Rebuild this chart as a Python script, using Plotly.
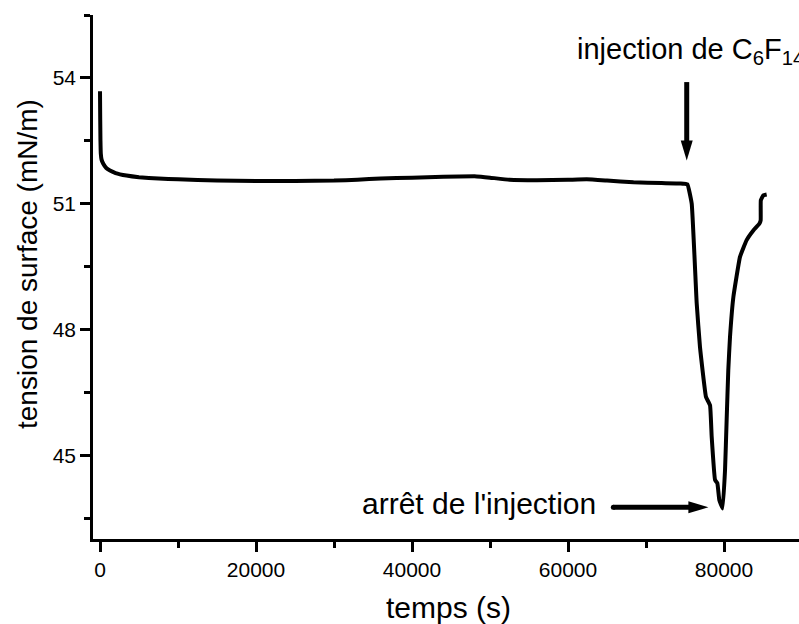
import math
import plotly.graph_objects as go

# ---------------- data ----------------
time_s = [0, 30, 60, 100, 200, 420, 800, 1280, 2000, 3400, 5000, 7500, 10000,
          15000, 20000, 25000, 30000, 33000, 36000, 40000, 44000, 48300, 50000,
          52500, 56000, 60000, 62400, 65000, 68400, 72000, 74400, 75300,
          75860, 76500, 76920, 77690, 78210, 78420, 78850, 79150, 79400, 79820,
          80130, 80340, 80550, 80770, 81200, 82050, 82900, 83760, 84530, 84700,
          84720, 85040, 85470]
tension = [53.68, 53.0, 52.5, 52.2, 52.05, 51.95, 51.85, 51.79, 51.73, 51.67, 51.63, 51.60, 51.58,
           51.55, 51.54, 51.54, 51.55, 51.57, 51.60, 51.62, 51.64, 51.65, 51.62,
           51.57, 51.56, 51.57, 51.58, 51.55, 51.51, 51.49, 51.48, 51.46,
           51.00, 48.62, 47.58, 46.39, 46.19, 45.44, 44.41, 44.33, 43.93, 43.73,
           44.64, 45.84, 47.03, 47.82, 48.77, 49.73, 50.13, 50.36, 50.52, 50.60,
           51.08, 51.20, 51.22]

x_tick_vals = [0, 20000, 40000, 60000, 80000]
y_tick_vals = [45, 48, 51, 54]

x_title = "temps (s)"
y_title = "tension de surface (mN/m)"
label_injection = "injection de C<sub>6</sub>F<sub>14</sub>"
label_stop = "arrêt de l'injection"

# arrow anchors (data units: seconds, mN/m)
inj_arrow = dict(x_tail=75220, y_tail=53.90, x_tip=75220, y_tip=52.03)
stop_arrow = dict(x_tail=65810, y_tail=43.755, x_tip=78000, y_tip=43.755)

# ---------------- layout constants ----------------
W, H = 799, 624
ML, MR, MT, MB = 93, 0, 15, 85
X_RANGE = [-897, 89615]
Y_RANGE = [43, 55.5001]
FONT = "Liberation Sans, Arial, sans-serif"
PW, PH = W - ML - MR, H - MT - MB

sx = PW / (X_RANGE[1] - X_RANGE[0])
sy = PH / (Y_RANGE[1] - Y_RANGE[0])


def paper_x(px):
    return (px - ML) / PW


def paper_y(py):
    return (H - MB - py) / PH


def arrow_shapes(x_tail, y_tail, x_tip, y_tip, head_len=20, head_w=12, width=5):
    dxp = (x_tip - x_tail) * sx
    dyp = (y_tip - y_tail) * sy
    L = math.hypot(dxp, dyp)
    ux, uy = dxp / L, dyp / L
    base_x = x_tip - ux * head_len / sx
    base_y = y_tip - uy * head_len / sy
    px_, py_ = -uy * head_w / 2, ux * head_w / 2
    p1 = (base_x + px_ / sx, base_y + py_ / sy)
    p2 = (base_x - px_ / sx, base_y - py_ / sy)
    sh_x = x_tip - ux * (head_len - 3) / sx
    sh_y = y_tip - uy * (head_len - 3) / sy
    return [
        dict(type="line", xref="x", yref="y", x0=x_tail, y0=y_tail, x1=sh_x, y1=sh_y,
             line=dict(color="black", width=width)),
        dict(type="path", xref="x", yref="y",
             path=f"M {x_tip},{y_tip} L {p1[0]},{p1[1]} L {p2[0]},{p2[1]} Z",
             fillcolor="black", line=dict(color="black", width=0)),
    ]


fig = go.Figure()
fig.add_trace(go.Scatter(x=time_s, y=tension, mode="lines",
                         line=dict(color="black", width=4, shape="spline", smoothing=0.3),
                         hoverinfo="skip", showlegend=False))

shapes = arrow_shapes(**inj_arrow) + arrow_shapes(**stop_arrow)
r_px = 2.5
shapes.append(dict(type="circle", xref="x", yref="y",
                   x0=stop_arrow["x_tail"] - r_px / sx, x1=stop_arrow["x_tail"] + r_px / sx,
                   y0=stop_arrow["y_tail"] - r_px / sy, y1=stop_arrow["y_tail"] + r_px / sy,
                   fillcolor="black", line=dict(width=0)))

annotations = [
    dict(x=paper_x(576), y=paper_y(50.7), xref="paper", yref="paper", text=label_injection,
         showarrow=False, xanchor="left", yanchor="middle", borderpad=0,
         font=dict(family=FONT, size=29, color="black")),
    dict(x=paper_x(597), y=paper_y(503), xref="paper", yref="paper", text=label_stop,
         showarrow=False, xanchor="right", yanchor="middle", borderpad=0,
         font=dict(family=FONT, size=30, color="black")),
    dict(x=paper_x(448), y=paper_y(607), xref="paper", yref="paper", text=x_title,
         showarrow=False, xanchor="center", yanchor="middle", borderpad=0,
         font=dict(family=FONT, size=30, color="black")),
    dict(x=paper_x(27), y=paper_y(264), xref="paper", yref="paper", text=y_title,
         showarrow=False, xanchor="center", yanchor="middle", textangle=-90, borderpad=0,
         font=dict(family=FONT, size=28, color="black")),
]

axis_common = dict(showgrid=False, zeroline=False, showline=True, linecolor="black", linewidth=2.6,
                   ticks="outside", ticklen=10, tickwidth=2.6, tickcolor="black",
                   tickfont=dict(family=FONT, size=21, color="black"),
                   automargin=False, fixedrange=True)

fig.update_layout(
    width=W, height=H,
    margin=dict(l=ML, r=MR, t=MT, b=MB, pad=0),
    paper_bgcolor="white", plot_bgcolor="white",
    font=dict(family=FONT, color="black"),
    shapes=shapes,
    annotations=annotations,
    xaxis=dict(range=X_RANGE, tickvals=x_tick_vals, ticktext=[str(v) for v in x_tick_vals],
               minor=dict(dtick=10000, tick0=0, ticks="outside", ticklen=6, tickwidth=2.6,
                          tickcolor="black", showgrid=False),
               **axis_common),
    yaxis=dict(range=Y_RANGE, tickvals=y_tick_vals, ticktext=[str(v) for v in y_tick_vals],
               minor=dict(dtick=1.5, tick0=43.5, ticks="outside", ticklen=6, tickwidth=2.6,
                          tickcolor="black", showgrid=False),
               **axis_common),
)

fig.write_html("out.html", config={"displayModeBar": False},
               post_script="document.body.style.margin='0';document.body.style.overflow='hidden';")
